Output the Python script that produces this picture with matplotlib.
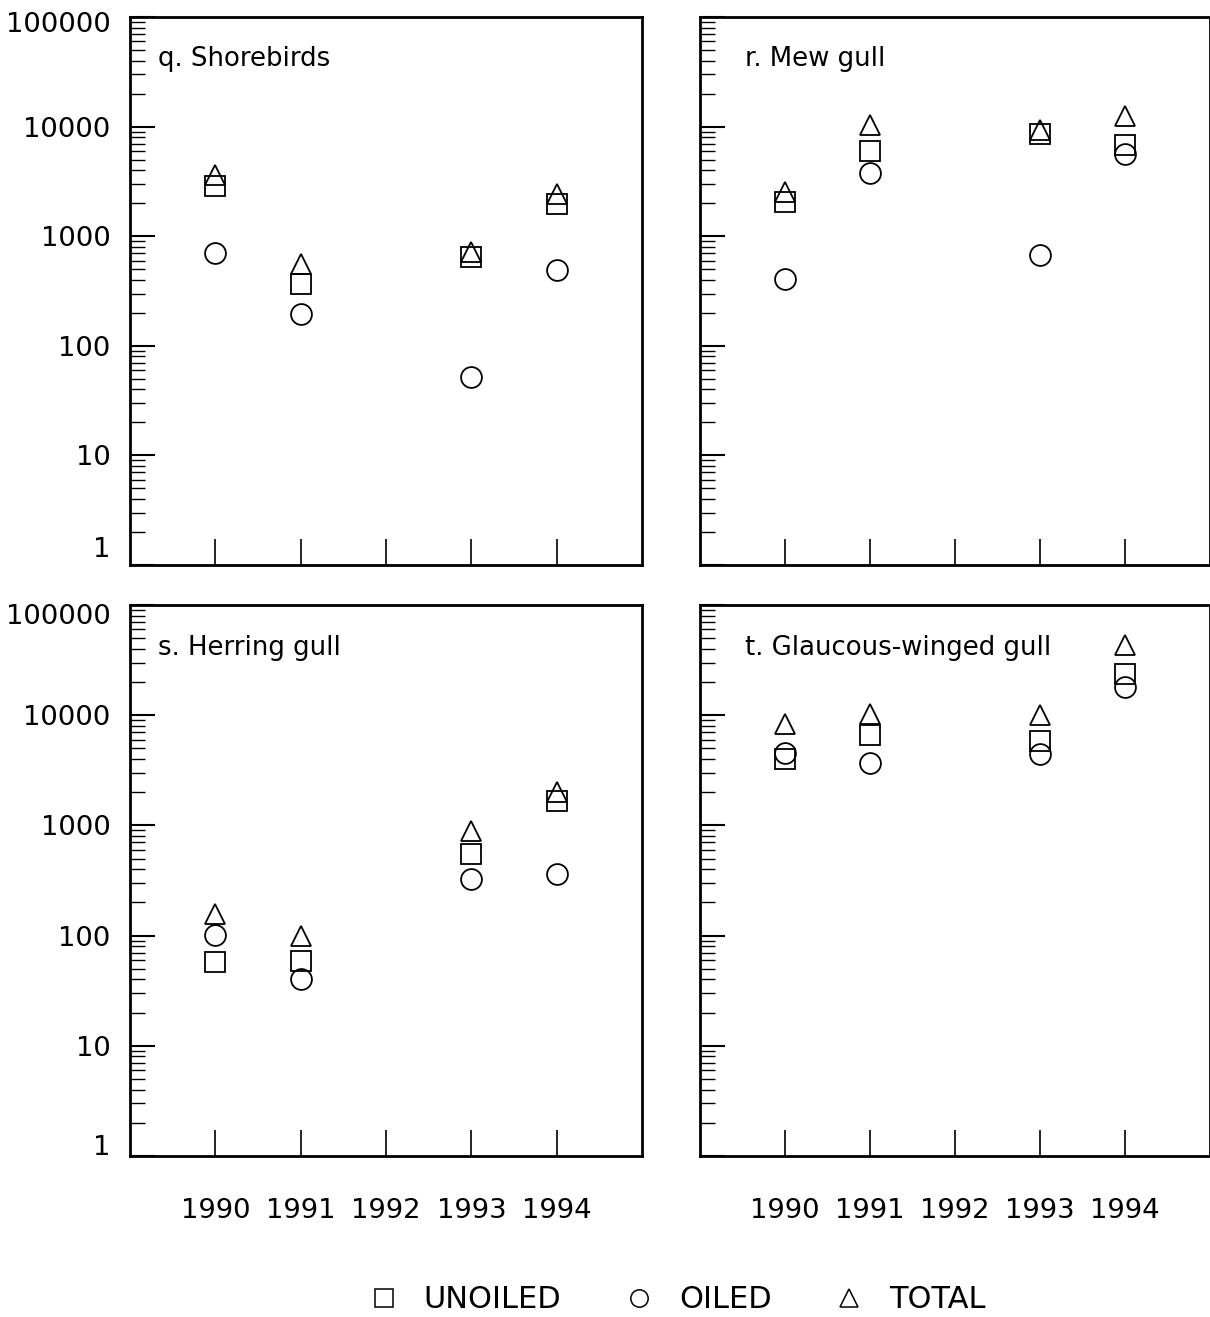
import matplotlib
matplotlib.use("Agg")
import matplotlib.pyplot as plt
import matplotlib.transforms as mtransforms
from matplotlib.ticker import LogLocator, FixedLocator, NullFormatter, NullLocator
from matplotlib.lines import Line2D

plt.rcParams['font.family'] = ['DejaVu Sans']

years = [1990, 1991, 1993, 1994]
tick_years = [1990, 1991, 1992, 1993, 1994]
ytick_vals = [1, 10, 100, 1000, 10000, 100000]
ytick_labels = ["1", "10", "100", "1000", "10000", "100000"]

titles = ["q. Shorebirds", "r. Mew gull", "s. Herring gull", "t. Glaucous-winged gull"]

shorebirds_unoiled = [2860, 363, 644, 1950]
shorebirds_oiled = [697, 197, 51.5, 490]
shorebirds_total = [3600, 561, 716, 2445]

mew_unoiled = [2070, 6030, 8530, 6800]
mew_oiled = [411, 3800, 672, 5620]
mew_total = [2530, 10300, 9270, 12450]

herring_unoiled = [57.4, 59, 551, 1670]
herring_oiled = [101, 40, 325, 361]
herring_total = [158, 99, 891, 2030]

glaucous_unoiled = [4025, 6600, 5830, 23900]
glaucous_oiled = [4530, 3700, 4400, 18000]
glaucous_total = [8250, 10300, 9950, 43300]

panels = [
    (shorebirds_unoiled, shorebirds_oiled, shorebirds_total),
    (mew_unoiled, mew_oiled, mew_total),
    (herring_unoiled, herring_oiled, herring_total),
    (glaucous_unoiled, glaucous_oiled, glaucous_total),
]

W, H = 1210, 1317
fig = plt.figure(figsize=(W / 100, H / 100), dpi=100)

# axes boxes in pixels: (left, top, width, height)
boxes = [
    (130, 17, 512, 548),
    (700, 17, 510, 548),
    (130, 605, 512, 551),
    (700, 605, 510, 551),
]

mkw = dict(linestyle='none', markerfacecolor='none', markeredgecolor='black',
           markeredgewidth=1.3)

for i, (box, data, title) in enumerate(zip(boxes, panels, titles)):
    l, t, w, h = box
    ax = fig.add_axes([l / W, 1 - (t + h) / H, w / W, h / H])
    uno, oil, tot = data
    ax.plot(years, uno, marker='s', markersize=14.4, **mkw)
    ax.plot(years, oil, marker='o', markersize=15, **mkw)
    ax.plot(years, tot, marker='^', markersize=14, **mkw)
    ax.set_yscale('log')
    ax.set_ylim(1, 100000)
    ax.set_xlim(1989, 1995)
    for sp in ax.spines.values():
        sp.set_linewidth(2)
    ax.xaxis.set_major_locator(FixedLocator(tick_years))
    ax.xaxis.set_minor_locator(NullLocator())
    ax.yaxis.set_major_locator(FixedLocator(ytick_vals))
    ax.yaxis.set_minor_locator(LogLocator(base=10, subs=range(2, 10)))
    ax.yaxis.set_minor_formatter(NullFormatter())
    ax.tick_params(axis='x', which='major', direction='in', length=19, width=1.2,
                   pad=30, labelsize=19.7, top=False)
    ax.tick_params(axis='y', which='major', direction='in', length=18, width=1.5,
                   pad=14, labelsize=19.7, right=False)
    ax.tick_params(axis='y', which='minor', direction='in', length=11, width=1.0,
                   right=False)
    if i < 2:
        ax.set_xticklabels([])
    else:
        ax.set_xticklabels([str(y) for y in tick_years])
    if i % 2 == 1:
        ax.set_yticklabels([])
    else:
        ax.set_yticklabels(ytick_labels)
        ticks = ax.yaxis.get_major_ticks()
        up = 18 if i == 0 else 11
        down = -5 if i == 0 else -9
        lab0 = ticks[0].label1
        lab0.set_transform(lab0.get_transform() +
                           mtransforms.ScaledTranslation(0, up / 100, fig.dpi_scale_trans))
        labN = ticks[-1].label1
        labN.set_transform(labN.get_transform() +
                           mtransforms.ScaledTranslation(0, down / 100, fig.dpi_scale_trans))
    tx = (158 - 130) / 512 if i % 2 == 0 else (745 - 700) / 510
    ax.text(tx, 0.91, title, transform=ax.transAxes, ha='left', va='baseline',
            fontsize=18.7)

legend_handles = [
    Line2D([], [], marker='s', markersize=12.5, markerfacecolor='none',
           markeredgecolor='black', markeredgewidth=1.1, linestyle='none'),
    Line2D([], [], marker='o', markersize=12.5, markerfacecolor='none',
           markeredgecolor='black', markeredgewidth=1.1, linestyle='none'),
    Line2D([], [], marker='^', markersize=12.5, markerfacecolor='none',
           markeredgecolor='black', markeredgewidth=1.1, linestyle='none'),
]
fig.legend(legend_handles, ["UNOILED", "OILED", "TOTAL"], loc='center',
           bbox_to_anchor=(677 / W, 1 - 1300 / H), ncol=3, frameon=False,
           fontsize=22, handlelength=1.0, handletextpad=0.8, columnspacing=2.05)

fig.savefig("out.png", dpi=100)
